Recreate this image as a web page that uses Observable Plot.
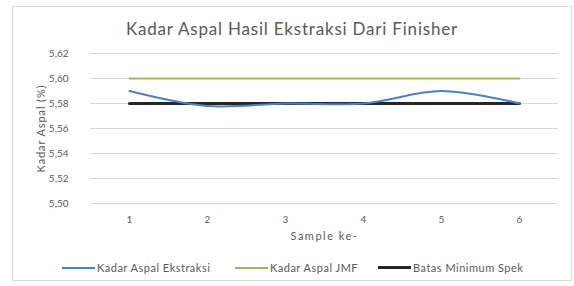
<!DOCTYPE html>
<html>
<head>
<meta charset="utf-8">
<script src="https://cdn.jsdelivr.net/npm/d3@7"></script>
<script src="https://cdn.jsdelivr.net/npm/@observablehq/plot@0.6"></script>
<style>
  body { margin: 0; background: #fff; font-family: Lato, "Open Sans", sans-serif; }
  #wrap { position: relative; width: 574px; height: 286px; overflow: hidden; background: #fff; }
  #frame { position: absolute; left: 12px; top: 6px; width: 560px; height: 275px; border: 1px solid #d9d9d9; box-sizing: border-box; }
  #title { position: absolute; left: 0; width: 584px; top: 18px; text-align: center; font-size: 17px; letter-spacing: 0.8px; color: #595959; }
  #chart { position: absolute; left: 0; top: 40px; }
  .leg { position: absolute; top: 261px; font-size: 11px; letter-spacing: 0.5px; color: #595959; white-space: nowrap; display: flex; align-items: center; }
  .leg span.sw { display: inline-block; width: 33px; margin-right: 2px; }
</style>
</head>
<body>
<div id="wrap">
  <div id="frame"></div>
  <div id="title">Kadar Aspal Hasil Ekstraksi Dari Finisher</div>
  <div id="chart"></div>
  <div id="legend"></div>
</div>
<script>
const samples = [1, 2, 3, 4, 5, 6];
const kadarEkstraksi = [5.59, 5.578, 5.58, 5.58, 5.59, 5.58];
const kadarJMF = [5.60, 5.60, 5.60, 5.60, 5.60, 5.60];
const batasMinimum = [5.58, 5.58, 5.58, 5.58, 5.58, 5.58];
const yTicks = [5.50, 5.52, 5.54, 5.56, 5.58, 5.60, 5.62];
const seriesNames = ["Kadar Aspal Ekstraksi", "Kadar Aspal JMF", "Batas Minimum Spek"];
const seriesColors = ["#4f7fc0", "#9bbb59", "#262626"];
const seriesWidths = [2, 2, 3];

const rows = (vals) => samples.map((s, i) => ({sample: s, value: vals[i]}));
const fmt = d => d3.format(".2f")(d).replace(".", ",");

const plot = Plot.plot({
  width: 574,
  height: 210,
  marginLeft: 90,
  marginRight: 16,
  marginTop: 13,
  marginBottom: 47,
  style: { fontFamily: "Lato, 'Open Sans', sans-serif", fontSize: "10px", color: "#595959", background: "transparent" },
  x: { type: "point", domain: samples, padding: 0.5 },
  y: { domain: [5.50, 5.62] },
  marks: [
    Plot.gridY(yTicks, { stroke: "#d9d9d9", strokeOpacity: 1 }),
    Plot.axisY(yTicks, { tickSize: 0, tickPadding: 22, tickFormat: fmt, label: "Kadar Aspal (%)", labelAnchor: "center", labelArrow: "none", labelOffset: 53, fontSize: 10 }),
    Plot.axisX(samples, { tickSize: 0, tickPadding: 12, label: "Sample ke-", labelAnchor: "center", labelArrow: "none", labelOffset: 36, fontSize: 10 }),
    Plot.line(rows(batasMinimum), { x: "sample", y: "value", stroke: seriesColors[2], strokeWidth: seriesWidths[2] }),
    Plot.line(rows(kadarJMF), { x: "sample", y: "value", stroke: seriesColors[1], strokeWidth: seriesWidths[1] }),
    Plot.line(rows(kadarEkstraksi), { x: "sample", y: "value", stroke: seriesColors[0], strokeWidth: seriesWidths[0], curve: "catmull-rom" })
  ]
});
// widen axis labels a little
d3.select(plot).selectAll("g[aria-label='y-axis label'] text").style("font-size", "11px").style("letter-spacing", "0.9px");
d3.select(plot).selectAll("g[aria-label='x-axis label'] text").style("font-size", "11px").style("letter-spacing", "1.5px");
document.getElementById("chart").appendChild(plot);

const legLefts = [62, 235, 378];
const legend = document.getElementById("legend");
seriesNames.forEach((name, i) => {
  const d = document.createElement("div");
  d.className = "leg";
  d.style.left = legLefts[i] + "px";
  d.innerHTML = `<span class="sw" style="height:${seriesWidths[i]}px;background:${seriesColors[i]}"></span>${name}`;
  legend.appendChild(d);
});
</script>
</body>
</html>
